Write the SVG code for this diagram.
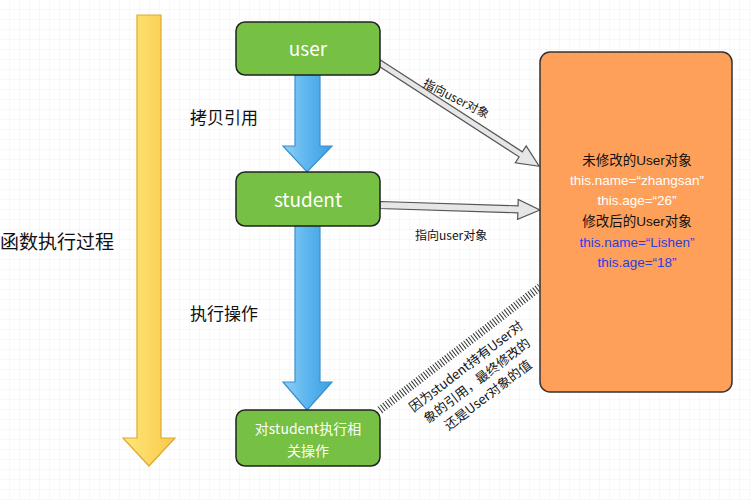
<svg xmlns="http://www.w3.org/2000/svg" width="750" height="500" viewBox="0 0 750 500">
<defs>
<pattern id="g" width="10" height="10" patternUnits="userSpaceOnUse"><path d="M10 0V10H0" fill="none" stroke="#ececec" stroke-width="0.8"/></pattern>
<linearGradient id="bl" x1="0" x2="1"><stop offset="0" stop-color="#8fd0f5"/><stop offset="0.5" stop-color="#5bb5ef"/><stop offset="1" stop-color="#3f9fe0"/></linearGradient>
<linearGradient id="yl" x1="0" x2="1"><stop offset="0" stop-color="#ffe77a"/><stop offset="1" stop-color="#f8c94a"/></linearGradient>
</defs>
<style>
.n{fill:#76c043;stroke:#222;stroke-width:1.5}
.w{fill:#fff;font-family:"Noto Sans CJK SC","Noto Sans",sans-serif;text-anchor:middle}
.k{fill:#111;font-family:"Noto Sans CJK SC","Noto Sans",sans-serif}
.ga{fill:#e6e6e6;stroke:#555;stroke-width:1.2}
</style>
<rect width="750" height="500" fill="#fff"/>
<rect width="750" height="500" fill="url(#g)"/>
<g id="timeline"><path d="M137 15H161V438H175L149 466L123 438H137Z" fill="url(#yl)" stroke="#e0a830" stroke-width="1.2"/></g>
<text class="k" x="0" y="249" font-size="19">函数执行过程</text>
<g id="connectors">
<path d="M295 75H320V146H332L307 172L283 146H295Z" fill="url(#bl)" stroke="#3a8fd0" stroke-width="1.2"/>
<path d="M295 226H320V382H332L307 410L283 382H295Z" fill="url(#bl)" stroke="#3a8fd0" stroke-width="1.2"/>
<g transform="translate(378,62) rotate(32.9)"><path d="M0 -3H170V-10L192 0L170 10V3H0Z" class="ga"/></g>
<g transform="translate(380,205) rotate(1.8)"><path d="M0 -3.5H138V-10L160 0L138 10V3.5H0Z" class="ga"/></g>
<line x1="380" y1="410" x2="540" y2="287" stroke="#333" stroke-width="8" stroke-dasharray="1 2"/>
</g>
<text class="k" x="190" y="124" font-size="17">拷贝引用</text>
<text class="k" x="190" y="320" font-size="17">执行操作</text>
<text class="k" x="0" y="0" font-size="12" transform="translate(422,86) rotate(27)">指向user对象</text>
<text class="k" x="415" y="240" font-size="12">指向user对象</text>
<g class="k" font-size="13" text-anchor="middle" transform="translate(478,382) rotate(-37.5)">
<text x="0" y="-15">因为student持有User对</text><text x="0" y="3">象的引用，最终修改的</text><text x="0" y="21">还是User对象的值</text></g>
<g id="user"><rect class="n" x="236" y="22" width="144" height="53" rx="9"/><text class="w" x="308" y="56" font-size="19">user</text></g>
<g id="student"><rect class="n" x="236" y="172" width="144" height="54" rx="9"/><text class="w" x="308" y="207" font-size="19">student</text></g>
<g id="op"><rect class="n" x="236" y="410" width="144" height="56" rx="9"/><text class="w" x="308" y="434" font-size="14">对student执行相</text><text class="w" x="308" y="456" font-size="14">关操作</text></g>
<g id="obj"><rect x="540" y="52" width="192" height="340" rx="10" fill="#ffa05a" stroke="#333" stroke-width="1.5"/>
<g font-family="Liberation Sans,'Noto Sans CJK SC',sans-serif" font-size="13.5" text-anchor="middle">
<text x="637" y="165" fill="#111">未修改的User对象</text>
<text x="637" y="185" fill="#fff">this.name=“zhangsan”</text>
<text x="637" y="205" fill="#fff">this.age=“26”</text>
<text x="637" y="226" fill="#111">修改后的User对象</text>
<text x="637" y="247" fill="#2a3ee0">this.name=“Lishen”</text>
<text x="637" y="267" fill="#2a3ee0">this.age=“18”</text></g></g>
</svg>
